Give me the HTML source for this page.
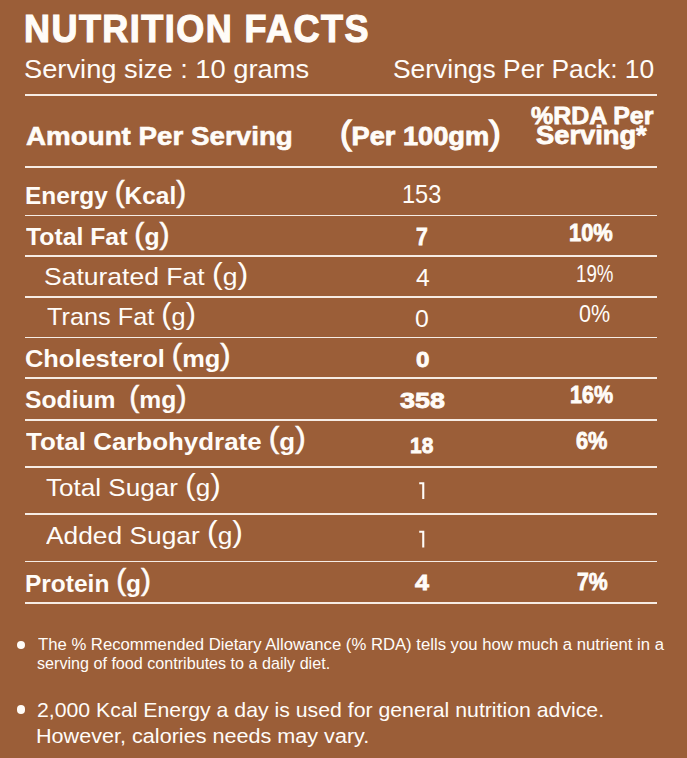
<!DOCTYPE html>
<html><head><meta charset="utf-8"><style>
html,body{margin:0;padding:0;}
body{width:687px;height:758px;background:#9b5e38;position:relative;overflow:hidden;font-family:"Liberation Sans",sans-serif;color:#fffcf8;}
.t{position:absolute;white-space:pre;line-height:normal;transform-origin:0 0;font-weight:400;}
.b{font-weight:700;}
.p,.pb{font-weight:400;font-size:1.22em;position:relative;top:-0.045em}
.pb{-webkit-text-stroke:0.5px currentColor}
.p2{font-weight:400;font-size:1.27em;position:relative;top:-0.015em;-webkit-text-stroke:1.3px currentColor}
.ln{position:absolute;left:25px;width:632px;height:1.6px;background:#f6ece4;}
.dot{position:absolute;width:8.6px;height:8.6px;border-radius:50%;background:#fffcf8;}
</style></head><body>
<div class="t b" style="left:23.68px;top:5.5px;font-size:39.54px;transform:scaleX(0.9107);-webkit-text-stroke:1.2px #fffcf8;letter-spacing:1.6px;">NUTRITION FACTS</div>
<div class="t" style="left:24.16px;top:54.4px;font-size:26.31px;transform:scaleX(1.0374);">Serving size : 10 grams</div>
<div class="t" style="left:392.8px;top:54.4px;font-size:26.31px;transform:scaleX(1.0039);">Servings Per Pack: 10</div>
<div class="t b" style="left:25.5px;top:120.7px;font-size:26.2px;transform:scaleX(1.0598);-webkit-text-stroke:0.6px #fffcf8;">Amount Per Serving</div>
<div class="t b" style="left:339.95px;top:114.6px;font-size:26.0px;transform:scaleX(1.0464);-webkit-text-stroke:0.8px #fffcf8;"><span class="p2">(</span>Per 100gm<span class="p2">)</span></div>
<div class="t b" style="left:531.4px;top:102.1px;font-size:24.56px;transform:scaleX(1.0157);-webkit-text-stroke:0.8px #fffcf8;">%RDA Per</div>
<div class="t b" style="left:536.4px;top:121.1px;font-size:24.86px;transform:scaleX(1.098);-webkit-text-stroke:0.8px #fffcf8;">Serving*</div>
<div class="t b" style="left:24.79px;top:176.8px;font-size:24.2px;transform:scaleX(1.0102);">Energy <span class="pb">(</span>Kcal<span class="pb">)</span></div>
<div class="t" style="left:401.59px;top:179.3px;font-size:26.0px;transform:scaleX(0.9049);">153</div>
<div class="t b" style="left:26.0px;top:218.2px;font-size:24.2px;transform:scaleX(1.0245);">Total Fat <span class="pb">(</span>g<span class="pb">)</span></div>
<div class="t b" style="left:416.0px;top:223.0px;font-size:24.3px;transform:scaleX(0.8692);-webkit-text-stroke:0.8px #fffcf8;">7</div>
<div class="t b" style="left:569.46px;top:220.1px;font-size:23.2px;transform:scaleX(0.9422);-webkit-text-stroke:0.8px #fffcf8;">10%</div>
<div class="t" style="left:44.1px;top:258.2px;font-size:24.2px;transform:scaleX(1.0957);">Saturated Fat <span class="p">(</span>g<span class="p">)</span></div>
<div class="t" style="left:416.0px;top:264.0px;font-size:24.3px;transform:scaleX(1.0154);">4</div>
<div class="t" style="left:575.84px;top:260.1px;font-size:23.9px;transform:scaleX(0.7822);">19%</div>
<div class="t" style="left:47.0px;top:297.9px;font-size:24.2px;transform:scaleX(1.0454);">Trans Fat <span class="p">(</span>g<span class="p">)</span></div>
<div class="t" style="left:414.97px;top:304.9px;font-size:24.0px;transform:scaleX(1.0333);">0</div>
<div class="t" style="left:578.7px;top:300.1px;font-size:23.9px;transform:scaleX(0.9);">0%</div>
<div class="t b" style="left:24.95px;top:339.6px;font-size:24.2px;transform:scaleX(1.0505);">Cholesterol <span class="pb">(</span>mg<span class="pb">)</span></div>
<div class="t b" style="left:416.0px;top:346.6px;font-size:22.0px;transform:scaleX(1.1);-webkit-text-stroke:0.8px #fffcf8;">0</div>
<div class="t b" style="left:24.98px;top:381.05px;font-size:24.2px;transform:scaleX(1.0212);">Sodium  <span class="pb">(</span>mg<span class="pb">)</span></div>
<div class="t b" style="left:399.7px;top:387.0px;font-size:22.9px;transform:scaleX(1.1737);-webkit-text-stroke:0.8px #fffcf8;">358</div>
<div class="t b" style="left:570.17px;top:381.9px;font-size:23.2px;transform:scaleX(0.9267);-webkit-text-stroke:0.8px #fffcf8;">16%</div>
<div class="t b" style="left:26.0px;top:422.7px;font-size:24.2px;transform:scaleX(1.0712);">Total Carbohydrate <span class="pb">(</span>g<span class="pb">)</span></div>
<div class="t b" style="left:410.08px;top:432.3px;font-size:22.9px;transform:scaleX(0.9167);-webkit-text-stroke:0.8px #fffcf8;">18</div>
<div class="t b" style="left:576.0px;top:428.4px;font-size:23.2px;transform:scaleX(0.9382);-webkit-text-stroke:0.8px #fffcf8;">6%</div>
<div class="t" style="left:46.4px;top:469.2px;font-size:24.2px;transform:scaleX(1.0783);">Total Sugar <span class="p">(</span>g<span class="p">)</span></div>
<div class="t" style="left:46.4px;top:516.6px;font-size:24.2px;transform:scaleX(1.0883);">Added Sugar <span class="p">(</span>g<span class="p">)</span></div>
<div class="t b" style="left:24.99px;top:564.7px;font-size:24.2px;transform:scaleX(1.0123);">Protein <span class="pb">(</span>g<span class="pb">)</span></div>
<div class="t b" style="left:414.8px;top:569.05px;font-size:22.7px;transform:scaleX(1.1077);-webkit-text-stroke:0.8px #fffcf8;">4</div>
<div class="t b" style="left:576.8px;top:568.9px;font-size:23.2px;transform:scaleX(0.9147);-webkit-text-stroke:0.8px #fffcf8;">7%</div>
<div class="t" style="left:38.4px;top:635.9px;font-size:15.6px;transform:scaleX(1.0699);">The % Recommended Dietary Allowance (% RDA) tells you how much a nutrient in a</div>
<div class="t" style="left:37.4px;top:654.0px;font-size:16.2px;transform:scaleX(0.9962);">serving of food contributes to a daily diet.</div>
<div class="t" style="left:36.65px;top:699.2px;font-size:20.2px;transform:scaleX(1.0528);">2,000 Kcal Energy a day is used for general nutrition advice.</div>
<div class="t" style="left:35.58px;top:725.1px;font-size:20.35px;transform:scaleX(1.0616);">However, calories needs may vary.</div>
<div class="ln" style="top:94.20px"></div>
<div class="ln" style="top:166.20px"></div>
<div class="ln" style="top:214.70px"></div>
<div class="ln" style="top:255.20px"></div>
<div class="ln" style="top:296.40px"></div>
<div class="ln" style="top:336.70px"></div>
<div class="ln" style="top:377.20px"></div>
<div class="ln" style="top:419.20px"></div>
<div class="ln" style="top:466.40px"></div>
<div class="ln" style="top:513.40px"></div>
<div class="ln" style="top:560.70px"></div>
<div class="ln" style="top:602.40px"></div>
<div class="dot" style="left:16.7px;top:640.8px"></div>
<div class="dot" style="left:16.7px;top:705.2px"></div>
<svg width="687" height="758" style="position:absolute;left:0;top:0">
<path fill="#fffcf8" d="M419.2 482.3H424.3V499H422.2V484.3H419.2Z"/>
<path fill="#fffcf8" d="M419.2 530.8H424.3V547.6H422.2V532.8H419.2Z"/>
</svg>
</body></html>
